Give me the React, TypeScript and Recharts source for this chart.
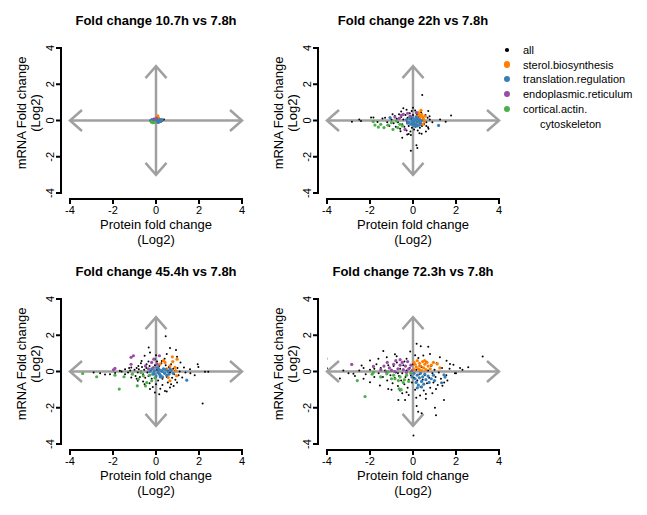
import { ScatterChart, Scatter, XAxis, YAxis, ReferenceLine } from 'recharts';

const TICKS = [-4, -2, 0, 2, 4];
const TITLES = ['Fold change 10.7h vs 7.8h', 'Fold change 22h vs 7.8h', 'Fold change 45.4h vs 7.8h', 'Fold change 72.3h vs 7.8h'];
const LEGEND_LABELS = ['all', 'sterol.biosynthesis', 'translation.regulation', 'endoplasmic.reticulum', 'cortical.actin.'];
const LEGEND_WRAP = 'cytoskeleton';
const COLORS = ['#000000', '#FF7F00', '#377EB8', '#984EA3', '#4DAF4A'];

type Pt = [number, number];

// 10.7h vs 7.8h
const h10All: Pt[] = [[0.37, 0.05], [0.3, 0.02], [-0.2, 0.05], [0.15, -0.08], [-0.1, 0.1], [0.25, -0.05], [0.05, 0.15], [-0.25, -0.03], [0.2, 0.08], [0.1, -0.12]];
const h10Sterol: Pt[] = [[0.08, 0.25], [0.12, 0.15], [0.18, 0.05], [0.05, 0.1]];
const h10Transl: Pt[] = [[-0.25, 0], [-0.18, 0.05], [-0.12, -0.05], [-0.05, 0.03], [0, -0.06], [0.05, 0.02], [0.1, -0.03], [0.15, 0.04], [0.2, -0.05], [0.25, 0], [-0.2, -0.06], [-0.08, 0.08], [0.02, 0.08], [0.12, -0.1], [0.28, 0.05]];
const h10Er: Pt[] = [[-0.1, 0.06], [0.02, 0.12]];
const h10Actin: Pt[] = [[-0.15, -0.12], [-0.05, -0.1], [-0.22, -0.08]];

// 22h vs 7.8h
const h22All: Pt[] = [
  [0.43, 1.41], [-2.84, -0.07], [-2.5, 0.05], [-1.95, 0.16], [1.77, 0.27], [1.26, 0.05], [1.52, -0.07], [0.16, -1.37], [0.2, -1.52], [-0.1, -1.67],
  [-0.1, -0.8], [-0.45, 0.67], [-0.06, 0.52], [0.71, 0.52], [0.77, 0.24], [0.62, -0.31], [0.7, -0.37], [0.4, -0.73], [-0.27, -0.77], [-0.5, -0.95],
  [-0.58, -0.59], [-1.19, -0.26], [-1.42, 0.11], [-1.65, -0.08], [-2.42, -0.03], [-1.84, 0.16],
  [-1.0, 0.05], [-0.9, -0.15], [-0.85, 0.25], [-0.8, -0.35], [-0.75, 0.1], [-0.7, -0.1], [-0.65, 0.35], [-0.6, -0.45], [-0.55, 0.2], [-0.5, -0.2],
  [-0.45, 0.05], [-0.4, -0.35], [-0.35, 0.3], [-0.3, -0.55], [-0.28, -0.1], [-0.25, 0.15], [-0.2, -0.3], [-0.15, 0.4], [-0.12, -0.6], [-0.08, 0.1],
  [-0.05, -0.4], [0, 0.3], [0.02, -0.15], [0.05, -0.5], [0.1, 0.55], [0.12, -0.35], [0.18, 0.35], [0.22, -0.55], [0.28, 0.2], [0.32, -0.4],
  [0.38, 0.45], [0.42, -0.3], [0.48, 0.1], [0.52, -0.2], [0.58, 0.3], [0.62, -0.1], [0.68, 0.15], [0.72, -0.45], [-1.2, -0.1], [-1.3, 0.15],
  [-1.1, -0.3], [-0.95, 0.35], [-0.55, 0.5], [-0.3, 0.6], [0.6, -0.6], [0.3, -0.7], [-0.2, -0.75], [0.0, 0.7], [0.9, -0.1], [0.78, 0.05],
];
const h22Sterol: Pt[] = [[0.25, 0.43], [0.4, 0.34], [0.33, 0.16], [0.49, 0.07], [0.3, -0.12], [0.46, -0.21], [0.18, 0.24], [0.56, 0.24], [0.37, 0.56], [0.45, 0.2], [0.52, -0.05], [0.3, 0.3]];
const h22Transl: Pt[] = [
  [-0.3, 0.05], [-0.2, -0.1], [-0.15, 0.1], [-0.05, -0.05], [0, 0.15], [0.05, -0.15], [0.1, 0.05], [0.15, -0.2], [0.2, 0.1], [0.25, -0.05],
  [0.3, 0.05], [0.35, -0.15], [0.4, 0.0], [0.1, -0.3], [0, -0.25], [-0.1, 0.2], [0.2, -0.3], [0.3, -0.25], [0.15, 0.2], [-0.25, -0.15],
  [1.19, -0.27], [-1.07, 0.16], [0.05, 0.0], [0.18, -0.08], [-0.1, -0.2],
];
const h22Er: Pt[] = [[-0.84, 0.19], [-0.45, 0.34], [-0.14, 0.24], [0.16, 0.43], [-0.64, 0.12], [-0.37, -0.49], [-0.55, 0.28], [-0.25, 0.4]];
const h22Actin: Pt[] = [[-1.85, -0.06], [-1.77, -0.25], [-1.61, -0.36], [-1.5, -0.21], [-1.35, -0.39], [-1.15, -0.25], [-1.0, -0.12], [-0.77, -0.03], [-0.61, -0.21], [-0.49, -0.3], [-0.71, -0.39], [-0.93, -0.49]];

// 45.4h vs 7.8h
const h45All: Pt[] = [
  [0.45, 1.95], [-0.34, 1.33], [0.65, 1.29], [0.93, 1.18], [2.17, -1.77], [1.94, 0.4], [1.97, 0.25], [2.28, -0.02], [2.43, -0.02], [1.58, 0.13],
  [-2.37, -0.16], [-1.68, 0.04], [0.15, -1.25], [0.42, -1.07],
  [-0.28, 1.05], [-0.53, 0.87], [0.5, 0.96], [0.98, 0.81], [1.14, 0.5], [1.3, 0.22], [1.37, -0.05], [1.22, -0.33], [0.98, -0.61], [0.82, -0.8],
  [0.65, -0.88], [0.5, -1.1], [-0.05, -1.16], [-0.28, -0.97], [-0.53, -0.7], [-0.85, -0.51], [-1.15, -0.33], [-1.44, -0.15], [-2.14, -0.15], [-1.44, 0.13],
  [-1.15, 0.22], [-0.82, 0.3], [-0.67, 0.58], [-0.44, 0.4], [-0.05, 0.68], [0.27, 0.58],
  [-1.2, 0.05], [-1.1, -0.12], [-1.0, 0.1], [-0.95, -0.25], [-0.9, 0.2], [-0.85, -0.05], [-0.8, 0.12], [-0.75, -0.3], [-0.7, 0.0], [-0.65, 0.25],
  [-0.6, -0.15], [-0.55, 0.1], [-0.5, -0.35], [-0.45, 0.2], [-0.4, -0.05], [-0.35, -0.25], [-0.3, 0.3], [-0.25, 0.05], [-0.2, -0.4], [-0.15, 0.15],
  [-0.1, -0.15], [-0.05, 0.35], [0.0, -0.3], [0.05, 0.1], [0.1, -0.5], [0.15, 0.3], [0.2, -0.2], [0.25, 0.45], [0.3, -0.4], [0.35, 0.15],
  [0.4, -0.1], [0.45, 0.35], [0.5, -0.3], [0.55, 0.05], [0.6, 0.25], [0.65, -0.05], [0.7, 0.4], [0.75, -0.35], [0.8, 0.15], [0.85, -0.15],
  [0.9, 0.05], [1.0, 0.2], [1.05, -0.2], [-0.6, -0.55], [-0.3, -0.65], [0.0, -0.7], [0.3, -0.75], [0.55, -0.6], [-0.35, 0.55], [0.05, 0.55],
  [0.4, 0.7], [-0.9, -0.4], [-1.3, -0.05], [-1.6, 0.0], [-1.9, -0.08], [-1.25, 0.2], [0.9, -0.45], [1.1, 0.0], [1.6, -0.1], [1.8, -0.2],
  [-2.6, -0.1], [-2.9, -0.05], [0.7, -0.7], [-0.15, -0.85], [0.2, -0.95], [-0.7, 0.45], [0.0, 0.9],
];
const h45Sterol: Pt[] = [[0.76, 0.81], [0.78, 0.55], [0.98, 0.68], [0.42, 0.5], [0.19, 0.41], [0.65, 0.31], [0.88, 0.23], [0.73, 0.08], [0.93, 0.04], [0.57, -0.33], [0.65, -0.51], [0.96, -0.24], [0.5, 0.15], [0.35, 0.6]];
const h45Transl: Pt[] = [
  [-0.28, 0.0], [-0.2, 0.15], [-0.15, -0.15], [-0.08, 0.05], [0.0, -0.25], [0.05, 0.2], [0.1, -0.05], [0.15, 0.1], [0.2, -0.2], [0.25, 0.05],
  [0.3, -0.3], [0.35, 0.15], [0.4, -0.1], [0.45, 0.1], [0.5, -0.2], [0.55, 0.0], [0.6, -0.15], [0.7, 0.05], [0.8, -0.1], [0.1, 0.2],
  [0.2, -0.3], [-0.1, -0.1], [0.3, 0.0], [0.15, -0.12], [1.43, -0.48], [0.65, 0.15],
];
const h45Er: Pt[] = [[-1.98, 0.09], [-1.91, 0.17], [-1.16, 0.4], [-1.05, 0.87], [-1.16, 0.78], [-0.2, 0.5], [-0.1, 0.68], [-0.49, 0.31], [-0.12, 0.22], [0.06, 0.4], [0.16, 0.87], [-0.35, 0.15]];
const h45Actin: Pt[] = [[-3.41, -0.11], [-2.76, -0.29], [-1.71, -0.97], [-1.91, -0.2], [-1.49, -0.29], [-0.87, -0.79], [-0.82, -0.42], [-0.59, -0.24], [-0.43, -0.61], [-0.2, -0.51], [-0.49, -0.8], [-0.3, -0.2], [-1.1, -0.15], [-0.7, -0.05], [-0.05, -0.35]];

// 72.3h vs 7.8h
const h72All: Pt[] = [
  [-4.01, 0.18], [-3.4, -0.38], [3.24, 0.83], [2.57, 0.24], [0.17, 1.53], [0.36, 1.4], [0.71, 1.37], [-0.13, 1.11], [-0.76, 0.84], [-0.68, -1.57],
  [-0.37, -1.57], [0.17, -1.9], [0.24, -2.22], [0.4, -2.31], [1.02, -2.0], [1.07, -2.42], [1.44, -1.57], [0.02, -3.53],
  [2.19, 0.2], [1.88, 0.37], [1.72, 0.42], [1.95, -0.09], [1.6, -0.5], [1.37, -0.78], [1.07, -0.96], [0.6, -1.24], [0.33, -1.33], [-0.3, -1.14],
  [-0.6, -1.05], [-1.15, -0.96], [-1.54, -0.77], [-2.0, -0.59], [-2.3, -0.4], [-2.77, -0.13], [-3.24, 0.05], [-2.39, 0.33], [-2.0, 0.61], [-1.61, 0.7],
  [-1.22, 0.79], [0.48, 0.88], [0.79, 0.97], [1.25, 0.79], [1.56, 0.6], [-1.38, 1.13], [-0.84, 0.95],
  [-1.6, -0.1], [-1.5, 0.2], [-1.4, -0.3], [-1.3, 0.05], [-1.2, -0.5], [-1.15, 0.35], [-1.05, -0.2], [-1.0, 0.1], [-0.95, -0.65], [-0.9, 0.3],
  [-0.85, -0.35], [-0.8, -0.05], [-0.75, 0.5], [-0.7, -0.8], [-0.65, -0.25], [-0.6, 0.15], [-0.55, -0.5], [-0.5, -0.1], [-0.45, 0.35], [-0.4, -0.7],
  [-0.35, -0.3], [-0.3, 0.05], [-0.25, -0.9], [-0.2, -0.45], [-0.15, 0.2], [-0.1, -0.2], [-0.05, -0.6], [0.0, 0.4], [0.05, -0.35], [0.1, -1.0],
  [0.15, 0.1], [0.2, -0.5], [0.25, 0.75], [0.3, -0.15], [0.35, -0.85], [0.4, 0.25], [0.45, -0.45], [0.5, -1.05], [0.55, -0.2], [0.6, 0.55],
  [0.65, -0.65], [0.7, 0.05], [0.75, -0.35], [0.8, -0.9], [0.85, 0.3], [0.9, -0.1], [0.95, -0.6], [1.0, 0.1], [1.05, -0.3], [1.1, 0.45],
  [1.15, -0.75], [1.2, -0.05], [1.3, -0.4], [1.35, 0.2], [1.45, -0.6], [1.55, -0.2], [-1.8, -0.3], [-2.0, 0.1], [-2.2, -0.15], [-2.5, 0.05],
  [-2.7, -0.25], [-1.7, 0.4], [-0.5, -1.2], [-0.2, -1.3], [0.15, -1.45], [0.6, -1.5], [-1.0, -1.0], [0.9, -1.2], [-0.3, 0.7], [0.1, 0.9],
  [-1.8, 0.15], [-2.3, 0.2], [2.0, -0.1], [2.3, 0.1], [1.7, 0.15], [-3.0, -0.1], [-0.1, -0.05], [-0.7, -0.1], [0.3, 0.3], [-0.4, 0.55],
];
const h72Sterol: Pt[] = [
  [0.05, 0.1], [0.1, 0.4], [0.15, 0.25], [0.2, 0.6], [0.25, 0.15], [0.3, 0.45], [0.35, 0.3], [0.4, 0.05], [0.45, 0.55], [0.5, 0.2],
  [0.55, 0.4], [0.6, 0.1], [0.65, 0.5], [0.7, 0.3], [0.8, 0.15], [0.95, 0.5], [1.13, 0.42], [0.54, 0.6], [1.25, 0.2], [0.85, 0.35], [0.05, 0.5], [0.3, 0.1],
];
const h72Transl: Pt[] = [
  [0.05, -0.1], [0.1, -0.4], [0.15, -0.6], [0.2, -0.2], [0.25, -0.75], [0.3, -0.35], [0.35, -0.1], [0.4, -0.55], [0.45, -0.3], [0.5, -0.7],
  [0.55, -0.15], [0.6, -0.45], [0.7, -0.25], [0.75, -0.6], [0.85, -0.4], [0.95, -0.2], [1.0, -0.5], [1.44, -0.18], [1.49, -0.31], [0.2, -0.9],
  [0.4, -0.85], [1.33, -0.62], [-0.05, -0.3],
];
const h72Er: Pt[] = [
  [-4.05, 0.7], [-2.85, 0.39], [-1.84, 0.28], [-1.5, 0.1], [-1.35, 0.3], [-1.2, 0.5], [-1.1, 0.2], [-1.0, 0.05], [-0.9, 0.4], [-0.8, 0.6],
  [-0.7, 0.15], [-0.6, 0.35], [-0.5, 0.5], [-0.45, 0.1], [-0.35, 0.3], [-0.25, 0.55], [-0.2, 0.15], [-0.1, 0.35], [-0.05, 0.05], [-0.3, -0.05],
  [-0.85, 0.0], [-1.25, 0.0], [-0.6, 0.65],
];
const h72Actin: Pt[] = [
  [-2.59, -0.5], [-2.23, -1.38], [-1.84, -0.05], [-1.5, -0.3], [-1.22, -0.13], [-1.15, -0.02], [-1.0, -0.4], [-0.9, -0.2], [-0.68, -0.5], [-0.64, -0.96],
  [-0.6, -0.3], [-0.45, -0.61], [-0.4, -0.45], [-0.3, -0.2], [-0.2, -0.55], [-0.1, -0.1], [-0.84, -0.4], [-1.9, -0.15], [-0.55, -1.0],
];

const PANELS = [
  { title: TITLES[0], left: 0, top: 0, series: [h10All, h10Sterol, h10Transl, h10Er, h10Actin] },
  { title: TITLES[1], left: 257, top: 0, series: [h22All, h22Sterol, h22Transl, h22Er, h22Actin] },
  { title: TITLES[2], left: 0, top: 251, series: [h45All, h45Sterol, h45Transl, h45Er, h45Actin] },
  { title: TITLES[3], left: 257, top: 251, series: [h72All, h72Sterol, h72Transl, h72Er, h72Actin] },
];

const FONT = '"Liberation Sans", Arial, sans-serif';
const AXIS_COLOR = '#000';

const toPts = (a: Pt[]) => a.map(([x, y]) => ({ x, y }));

const dot = (r: number, fill: string) => (p: any) => <circle cx={p.cx} cy={p.cy} r={r} fill={fill} />;

// R-style detached axes, drawn a few px outside the -4..4 box
const XAxisLine = (p: any) => {
  const y = Number(p.y1) + 6;
  return (
    <g stroke={AXIS_COLOR} strokeWidth={2} fill="none">
      <line x1={Number(p.x1)} y1={y} x2={Number(p.x2)} y2={y} />
    </g>
  );
};
const YAxisLine = (p: any) => {
  const x = Number(p.x1) - 9;
  return (
    <g stroke={AXIS_COLOR} strokeWidth={2} fill="none">
      <line x1={x} y1={Number(p.y1)} x2={x} y2={Number(p.y2)} />
    </g>
  );
};

// double-headed grey arrow
const Arrow = (p: any) => {
  const x1 = Number(p.x1);
  const y1 = Number(p.y1);
  const x2 = Number(p.x2);
  const y2 = Number(p.y2);
  const len = Math.hypot(x2 - x1, y2 - y1) || 1;
  const ux = (x2 - x1) / len;
  const uy = (y2 - y1) / len;
  const back = 12;
  const side = 10.5;
  const head = (tx: number, ty: number, dx: number, dy: number) =>
    `${tx - dx * back - dy * side},${ty - dy * back + dx * side} ${tx},${ty} ${tx - dx * back + dy * side},${ty - dy * back - dx * side}`;
  return (
    <g stroke="#A0A0A0" strokeWidth={2.5} fill="none">
      <line x1={x1} y1={y1} x2={x2} y2={y2} />
      <polyline points={head(x2, y2, ux, uy)} />
      <polyline points={head(x1, y1, -ux, -uy)} />
    </g>
  );
};

// tick text sits tickSize(5) + tickMargin(2) away from the axis
const XTick = (p: any) => {
  const x = Number(p.x);
  const y = Number(p.y);
  return (
    <g>
      <g stroke={AXIS_COLOR} strokeWidth={2}>
        <line x1={x} y1={y - 8} x2={x} y2={y - 2} />
      </g>
      <text x={x} y={y} dy="0.71em" textAnchor="middle" fontSize={11} fill="#000">
        {p.payload.value}
      </text>
    </g>
  );
};

const YTick = (p: any) => {
  const x = Number(p.x);
  const y = Number(p.y);
  return (
    <g>
      <g stroke={AXIS_COLOR} strokeWidth={2}>
        <line x1={x + 2} y1={y} x2={x + 8} y2={y} />
      </g>
      <text x={x - 0.5} y={y} transform={`rotate(-90 ${x - 0.5} ${y})`} textAnchor="middle" fontSize={11} fill="#000">
        {p.payload.value}
      </text>
    </g>
  );
};

const XLabel = (p: any) => {
  const vb = p.viewBox || { x: 61, y: 199, width: 190 };
  const cx = vb.x + vb.width / 2;
  return (
    <g fontSize={13} fill="#000" textAnchor="middle">
      <text x={cx} y={vb.y + 30}>Protein fold change</text>
      <text x={cx} y={vb.y + 45}>(Log2)</text>
    </g>
  );
};

const YLabel = (p: any) => {
  const vb = p.viewBox || { x: 0, y: 40, width: 61, height: 159 };
  const cy = vb.y + vb.height / 2 - 6.5;
  const x1 = vb.x + 26;
  const x2 = vb.x + 40;
  return (
    <g fontSize={13} fill="#000" textAnchor="middle">
      <text x={x1} y={cy} transform={`rotate(-90 ${x1} ${cy})`}>mRNA Fold change</text>
      <text x={x2} y={cy} transform={`rotate(-90 ${x2} ${cy})`}>(Log2)</text>
    </g>
  );
};

function Panel({ title, left, top, series }: { title: string; left: number; top: number; series: Pt[][] }) {
  return (
    <>
      <div style={{ position: 'absolute', left: left + 56, top: top + 14, width: 200, textAlign: 'center', fontSize: 13, lineHeight: '13px', fontWeight: 'bold' }}>
        {title}
      </div>
      <div style={{ position: 'absolute', left, top }}>
        <ScatterChart width={258} height={249} margin={{ top: 40, right: 7, bottom: 0, left: 0 }}>
          <XAxis
            type="number"
            dataKey="x"
            domain={[-4, 4]}
            ticks={TICKS}
            interval={0}
            allowDataOverflow
            padding={{ left: 9, right: 9 }}
            axisLine={false}
            tickSize={5}
            tickLine={false}
            tick={XTick}
            height={50}
            label={XLabel}
          />
          <YAxis
            type="number"
            dataKey="y"
            domain={[-4, 4]}
            ticks={TICKS}
            interval={0}
            allowDataOverflow
            padding={{ top: 8, bottom: 6 }}
            axisLine={false}
            tickSize={5}
            tickLine={false}
            tick={YTick}
            width={61}
            label={YLabel}
          />
          <ReferenceLine segment={[{ x: -4, y: -4 }, { x: 4, y: -4 }]} shape={XAxisLine} ifOverflow="visible" />
          <ReferenceLine segment={[{ x: -4, y: -4 }, { x: -4, y: 4 }]} shape={YAxisLine} ifOverflow="visible" />
          <ReferenceLine segment={[{ x: -4, y: 0 }, { x: 4, y: 0 }]} shape={Arrow} ifOverflow="visible" />
          <ReferenceLine segment={[{ x: 0, y: -3 }, { x: 0, y: 3 }]} shape={Arrow} ifOverflow="visible" />
          {series.map((s, i) => (
            <Scatter
              key={i}
              name={LEGEND_LABELS[i]}
              data={toPts(s)}
              fill={COLORS[i]}
              shape={dot(i === 0 ? 1 : 1.6, COLORS[i])}
              isAnimationActive={false}
            />
          ))}
        </ScatterChart>
      </div>
    </>
  );
}

function Legend() {
  const rows = [50, 64.5, 79, 94, 109];
  return (
    <>
      {LEGEND_LABELS.map((lab, i) => (
        <div key={lab} style={{ position: 'absolute', left: 500, top: rows[i] - 7, height: 14, width: 147 }}>
          <span
            style={{
              position: 'absolute',
              left: 7 - (i === 0 ? 1.8 : 3.4),
              top: 7 - (i === 0 ? 1.8 : 3.4),
              width: i === 0 ? 3.6 : 6.8,
              height: i === 0 ? 3.6 : 6.8,
              borderRadius: '50%',
              background: COLORS[i],
            }}
          />
          <span style={{ position: 'absolute', left: 23, top: 0, fontSize: 11, lineHeight: '14px', whiteSpace: 'nowrap' }}>{lab}</span>
        </div>
      ))}
      <div style={{ position: 'absolute', left: 540, top: 117, fontSize: 11, lineHeight: '14px' }}>{LEGEND_WRAP}</div>
    </>
  );
}

export default function App() {
  return (
    <div style={{ position: 'absolute', left: 0, top: 0, width: 647, height: 515, background: '#fff', fontFamily: FONT, color: '#000' }}>
      {PANELS.map((p) => (
        <Panel key={p.title} {...p} />
      ))}
      <Legend />
    </div>
  );
}
